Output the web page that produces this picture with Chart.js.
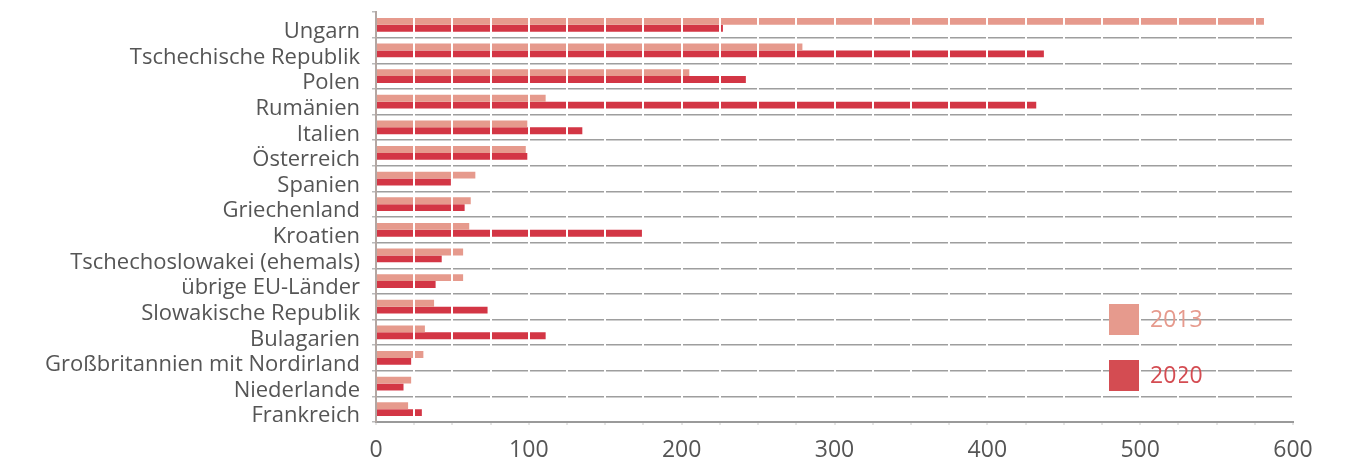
<!DOCTYPE html>
<html>
<head>
<meta charset="utf-8">
<script src="https://cdn.jsdelivr.net/npm/chart.js@4"></script>
<style>
  html, body { margin: 0; padding: 0; background: #fff; }
  #wrap { width: 1358px; height: 459px; }
</style>
</head>
<body>
<div id="wrap"><canvas id="chart" width="1358" height="459"></canvas></div>
<script>
// Data
const countries = [
    'Ungarn', 'Tschechische Republik', 'Polen', 'Rumänien', 'Italien', 'Österreich',
    'Spanien', 'Griechenland', 'Kroatien', 'Tschechoslowakei (ehemals)', 'übrige EU-Länder',
    'Slowakische Republik', 'Bulagarien', 'Großbritannien mit Nordirland', 'Niederlande', 'Frankreich'
];
const values2013 = [581, 279, 205, 111, 99, 98, 65, 62, 61, 57, 57, 38, 32, 31, 23, 21];
const values2020 = [227, 437, 242, 432, 135, 99, 49, 58, 174, 43, 39, 73, 111, 23, 18, 30];
const seriesLabels = ['2013', '2020'];
const xMax = 600;
const xStep = 25;

const LIGHT = '#E69A8D';
const DARK = '#D33645';
const FONT = "'Open Sans', sans-serif";

// legend drawn inside the plot, lower right
const insideLegend = {
    id: 'insideLegend',
    beforeDatasetsDraw(chart) {
        const { ctx } = chart;
        const items = [
            { text: seriesLabels[0], box: LIGHT, color: '#E69A8D', top: 304 },
            { text: seriesLabels[1], box: '#D44C52', color: '#D44C52', top: 360 }
        ];
        ctx.save();
        ctx.font = '23px ' + FONT;
        ctx.textBaseline = 'middle';
        items.forEach(it => {
            ctx.fillStyle = it.box;
            ctx.fillRect(1109, it.top, 31, 31);
            ctx.fillStyle = it.color;
            ctx.fillText(it.text, 1150, it.top + 16);
        });
        ctx.restore();
    }
};

new Chart(document.getElementById('chart'), {
    type: 'bar',
    data: {
        labels: countries,
        datasets: [
            { label: seriesLabels[0], data: values2013, backgroundColor: LIGHT },
            { label: seriesLabels[1], data: values2020, backgroundColor: DARK }
        ]
    },
    options: {
        indexAxis: 'y',
        responsive: false,
        animation: false,
        layout: { padding: { top: 12, right: 65, left: 0, bottom: 0 } },
        datasets: { bar: { categoryPercentage: 0.54, barPercentage: 1 } },
        plugins: { legend: { display: false }, tooltip: { enabled: false } },
        scales: {
            x: {
                min: 0,
                max: xMax,
                afterFit: s => { s.height = 37; s.paddingLeft = 0; s.paddingRight = 0; },
                ticks: {
                    stepSize: xStep,
                    autoSkip: false,
                    maxRotation: 0,
                    padding: 12,
                    color: '#555',
                    font: { family: FONT, size: 23 },
                    callback: v => (v % 100 === 0 ? v : '')
                },
                grid: {
                    z: 1,
                    color: '#fff',
                    lineWidth: 2,
                    tickLength: 3,
                    tickColor: '#ccc',
                    tickWidth: 1
                },
                border: { display: true, color: '#9a9a9a', width: 2, z: 2 }
            },
            y: {
                afterFit: s => { s.width = 376; s.paddingTop = 0; s.paddingBottom = 0; },
                ticks: {
                    autoSkip: false,
                    padding: 12,
                    labelOffset: 7,
                    color: '#555',
                    font: { family: FONT, size: 22 }
                },
                grid: {
                    offset: true,
                    color: ctx => (ctx.index === 0 ? 'rgba(0,0,0,0)' : '#9e9e9e'),
                    lineWidth: 1.5,
                    tickLength: 4,
                    tickColor: '#bbb'
                },
                border: { display: true, color: '#b3a7a3', width: 2, z: 2 }
            }
        }
    },
    plugins: [insideLegend]
});
</script>
</body>
</html>
